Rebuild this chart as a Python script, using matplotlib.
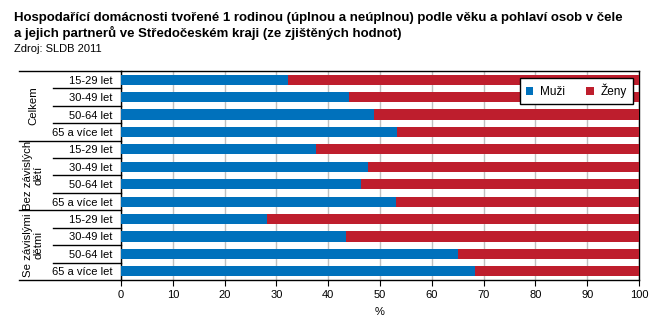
import matplotlib.pyplot as plt
import numpy as np

plt.rcParams['font.family'] = ['Liberation Sans', 'DejaVu Sans']

# data (share of men, %)
groups = ["Celkem", "Bez závislých\ndětí", "Se závislými\ndětmi"]
ages = ["15-29 let", "30-49 let", "50-64 let", "65 a více let"]
muzi = [32.2, 44.0, 48.8, 53.3,
        37.6, 47.6, 46.3, 53.0,
        28.2, 43.4, 65.0, 68.3]
zeny = [100 - m for m in muzi]

blue = '#0071bc'
red = '#be1e2d'

W, H = 663, 334
fig = plt.figure(figsize=(W / 100, H / 100), dpi=100)
left, right, top, bottom = 121, 639, 71, 280
ax = fig.add_axes([left / W, 1 - bottom / H, (right - left) / W, (bottom - top) / H])

n = len(muzi)
y = np.arange(n)
ax.barh(y, muzi, height=0.58, color=blue, label='Muži', zorder=3)
ax.barh(y, zeny, left=muzi, height=0.58, color=red, label='Ženy', zorder=3)

ax.set_xlim(0, 100)
ax.set_ylim(n - 0.5, -0.5)
ax.set_xticks(range(0, 101, 10))
ax.tick_params(axis='x', length=4, width=0.8, labelsize=8, pad=3)
ax.set_yticks(y)
ax.set_yticklabels(ages * len(groups), fontsize=8)
ax.tick_params(axis='y', length=0, pad=6)
ax.xaxis.grid(True, color='#c0c0c0', linewidth=1, zorder=0)
ax.set_axisbelow(True)
for s in ax.spines.values():
    s.set_linewidth(1)
    s.set_color('black')
ax.set_xlabel('%', fontsize=8, labelpad=5)

# separator lines on the left side
tr = ax.get_yaxis_transform()
x_outer = (19 - left) / (right - left)
x_inner = (53 - left) / (right - left)
for i in range(n + 1):
    xs = x_outer if i % 4 == 0 else x_inner
    ax.plot([xs, 0], [i - 0.5, i - 0.5], color='black', lw=1,
            transform=tr, clip_on=False)

# group labels
for g, name in enumerate(groups):
    ax.text((33 - left) / (right - left), g * 4 + 1.5, name, transform=tr,
            rotation=90, ha='center', va='center', fontsize=8.2,
            linespacing=1.0)

leg = ax.legend(loc='upper right', bbox_to_anchor=(0.988, 0.967), ncol=2,
                fontsize=8.5, frameon=True, fancybox=False, framealpha=1,
                handlelength=0.6, handleheight=0.6, columnspacing=1.8,
                handletextpad=0.6, borderpad=0.5, borderaxespad=0)
leg.get_frame().set_edgecolor('black')
leg.get_frame().set_linewidth(1)

fig.text(14 / W, 1 - 21 / H,
         "Hospodařící domácnosti tvořené 1 rodinou (úplnou a neúplnou) podle věku a pohlaví osob v čele",
         fontsize=9.5, fontweight='bold', va='baseline')
fig.text(14 / W, 1 - 37 / H,
         "a jejich partnerů ve Středočeském kraji (ze zjištěných hodnot)",
         fontsize=9.5, fontweight='bold', va='baseline')
fig.text(14 / W, 1 - 52 / H, "Zdroj: SLDB 2011", fontsize=8, va='baseline')

fig.savefig('out.png', dpi=100)
